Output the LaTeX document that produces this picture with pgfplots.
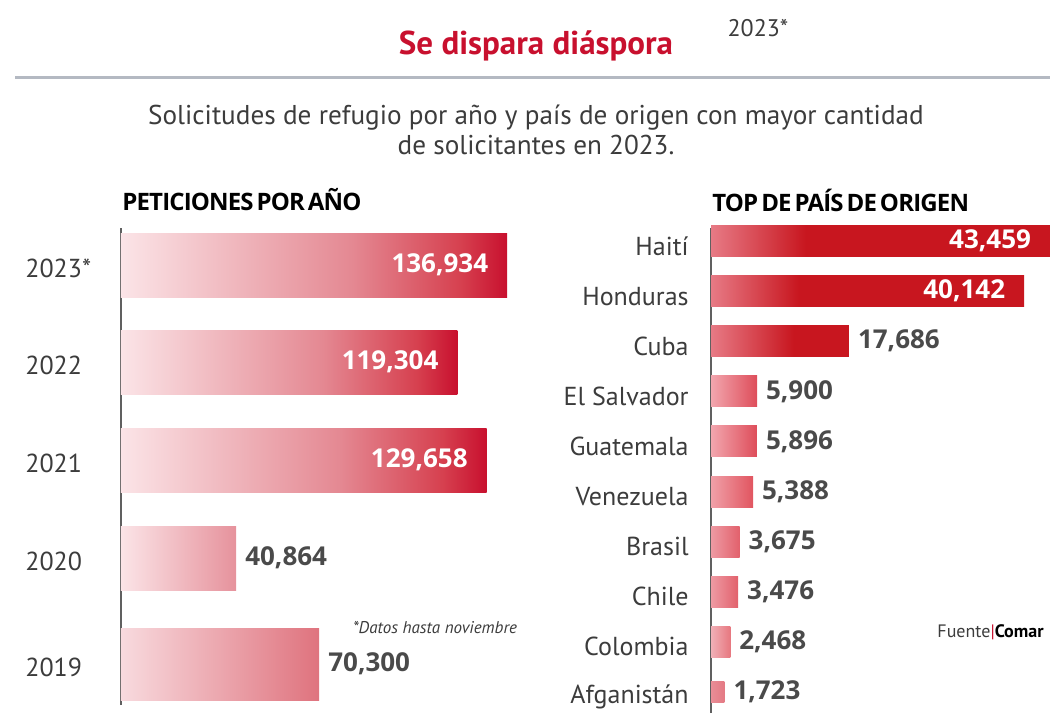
\documentclass[border=0pt]{standalone}
\usepackage{fontspec}
\setmainfont{PT Sans}
\newfontfamily\numfont{Open Sans}
\newfontfamily\headfont{Open Sans}[LetterSpace=-3.5, WordSpace=0.55]
\usepackage{pgfplots}
\pgfplotsset{compat=1.18}

\definecolor{cred}{HTML}{C8102E}
\definecolor{txt}{HTML}{3C3C3C}
\definecolor{valg}{HTML}{4A4A4A}
\definecolor{axg}{HTML}{606060}
\definecolor{lineg}{HTML}{B4B9C2}
% left chart colours
\definecolor{lpink}{HTML}{FBE4E7}
\definecolor{lmid}{HTML}{E48892}
\definecolor{lmid2}{HTML}{D6404F}
\definecolor{l20}{HTML}{E6929C}
\definecolor{l19a}{HTML}{F8DADE}
\definecolor{l19b}{HTML}{DF737E}
% right chart colours
\definecolor{rpink}{HTML}{E77A85}
\definecolor{rred}{HTML}{C8161F}
\definecolor{sa}{HTML}{F2A6AE}
\definecolor{sb}{HTML}{DE4D5A}
\definecolor{va}{HTML}{F0A0A8}
\definecolor{vb}{HTML}{E15560}
\definecolor{ba}{HTML}{EE9AA3}
\definecolor{bb}{HTML}{E2616C}
\definecolor{ca}{HTML}{F1B0B7}
\definecolor{cb}{HTML}{E77880}
\definecolor{aa}{HTML}{E98D96}
\definecolor{ab}{HTML}{E47A84}

% shadings: the part 25bp..75bp is stretched over the bar
\pgfdeclarehorizontalshading{lbig}{100bp}{color(0bp)=(lpink); color(25bp)=(lpink); color(55bp)=(lmid); color(69bp)=(lmid2); color(75bp)=(cred); color(100bp)=(cred)}
\pgfdeclarehorizontalshading{rbig}{100bp}{color(0bp)=(rpink); color(25bp)=(rpink); color(39bp)=(rred); color(75bp)=(rred); color(100bp)=(rred)}
\pgfdeclarehorizontalshading{rmid}{100bp}{color(0bp)=(rpink); color(25bp)=(rpink); color(55bp)=(rred); color(75bp)=(rred); color(100bp)=(rred)}

\newcommand{\vfont}{\numfont\bfseries\fontsize{13}{15}\selectfont}
\newcommand{\lfont}{\fontsize{13}{15}\selectfont}

\pgfplotsset{
  onebar/.style={xbar, bar shift=0pt, draw=none, point meta=x, nodes near coords},
  inlab/.style={nodes near coords style={anchor=east, text=white, font=\vfont, xshift=-6pt}},
  outlab/.style={nodes near coords style={anchor=west, text=valg, font=\vfont, xshift=1pt}},
  panel/.style={
    scale only axis, anchor=south west, clip=false,
    axis x line=none, axis y line*=left,
    y axis line style={-, line width=1.4pt, color=axg},
    major tick length=0pt, xmin=0,
    yticklabel style={font=\lfont, text=txt, inner sep=0pt},
    /pgf/number format/.cd, fixed, precision=0, 1000 sep={,}, assume math mode=true
  },
}

\begin{document}
\begin{tikzpicture}
\path[use as bounding box] (0,0) rectangle (525pt,-356.5pt);

\node[font=\bfseries\fontsize{16.5}{19}\selectfont, text=cred] at (268pt,-23pt) {Se dispara diáspora};
\node[font=\fontsize{12}{14}\selectfont, text=txt] at (379pt,-14pt) {2023*};
\draw[line width=1.5pt, color=lineg] (7.5pt,-38.5pt) -- (525pt,-38.5pt);
\node[align=center, font=\fontsize{13.6}{15}\selectfont, text=txt] at (268pt,-65pt)
  {Solicitudes de refugio por año y país de origen con mayor cantidad\\de solicitantes en 2023.};
\node[anchor=west, inner sep=0pt, font=\headfont\bfseries\fontsize{12}{15}\selectfont] at (61pt,-100pt) {PETICIONES POR AÑO};
\node[anchor=west, inner sep=0pt, font=\headfont\bfseries\fontsize{12}{15}\selectfont] at (356pt,-100pt) {TOP DE PAÍS DE ORIGEN};
\node[font=\itshape\fontsize{8.5}{10}\selectfont, text=txt] at (217.5pt,-314pt) {*Datos hasta noviembre};
\node[anchor=east, inner sep=0pt, font=\fontsize{9}{11}\selectfont] at (522pt,-316pt)
  {\textcolor{txt}{Fuente}\textcolor{cred}{|}\textbf{Comar}};

% peticiones por año
\begin{axis}[panel,
  at={(60.5pt,-352.5pt)}, width=211.5pt, height=238.5pt,
  xmax=150000, ymin=0, ymax=4.77,
  ytick={4.40,3.43,2.45,1.47,0.41},
  yticklabels={2023*,2022,2021,2020,2019},
  yticklabel style={anchor=west, xshift=-48pt, yshift=-1.5pt},
]
\addplot[onebar, inlab, bar width=0.64, shade, shading=lbig] coordinates {(136934,4.40)};
\addplot[onebar, inlab, bar width=0.64, shade, shading=lbig] coordinates {(119304,3.43)};
\addplot[onebar, inlab, bar width=0.64, shade, shading=lbig] coordinates {(129658,2.45)};
\addplot[onebar, outlab, bar width=0.64, left color=lpink, right color=l20] coordinates {(40864,1.47)};
\addplot[onebar, outlab, bar width=0.72, left color=l19a, right color=l19b] coordinates {(70300,0.41)};
\end{axis}

% top de país de origen
\begin{axis}[panel,
  at={(355.5pt,-356.5pt)}, width=169.5pt, height=242.5pt,
  xmax=43459, ymin=-0.42, ymax=9.26,
  ytick={0,...,9},
  yticklabels={Afganistán,Colombia,Chile,Brasil,Venezuela,Guatemala,El Salvador,Cuba,Honduras,Haití},
  yticklabel style={anchor=east, xshift=-11pt, yshift=-2.5pt},
]
\addplot[onebar, inlab, bar width=0.62, shade, shading=rbig] coordinates {(43459,9)};
\addplot[onebar, inlab, bar width=0.62, shade, shading=rbig] coordinates {(40142,8)};
\addplot[onebar, outlab, bar width=0.62, shade, shading=rmid] coordinates {(17686,7)};
\addplot[onebar, outlab, bar width=0.62, left color=sa, right color=sb] coordinates {(5900,6)};
\addplot[onebar, outlab, bar width=0.62, left color=sa, right color=sb] coordinates {(5896,5)};
\addplot[onebar, outlab, bar width=0.62, left color=va, right color=vb] coordinates {(5388,4)};
\addplot[onebar, outlab, bar width=0.62, left color=ba, right color=bb] coordinates {(3675,3)};
\addplot[onebar, outlab, bar width=0.62, left color=ba, right color=bb] coordinates {(3476,2)};
\addplot[onebar, outlab, bar width=0.62, left color=ca, right color=cb] coordinates {(2468,1)};
\addplot[onebar, outlab, bar width=0.42, left color=aa, right color=ab] coordinates {(1723,0)};
\end{axis}
\end{tikzpicture}
\end{document}
